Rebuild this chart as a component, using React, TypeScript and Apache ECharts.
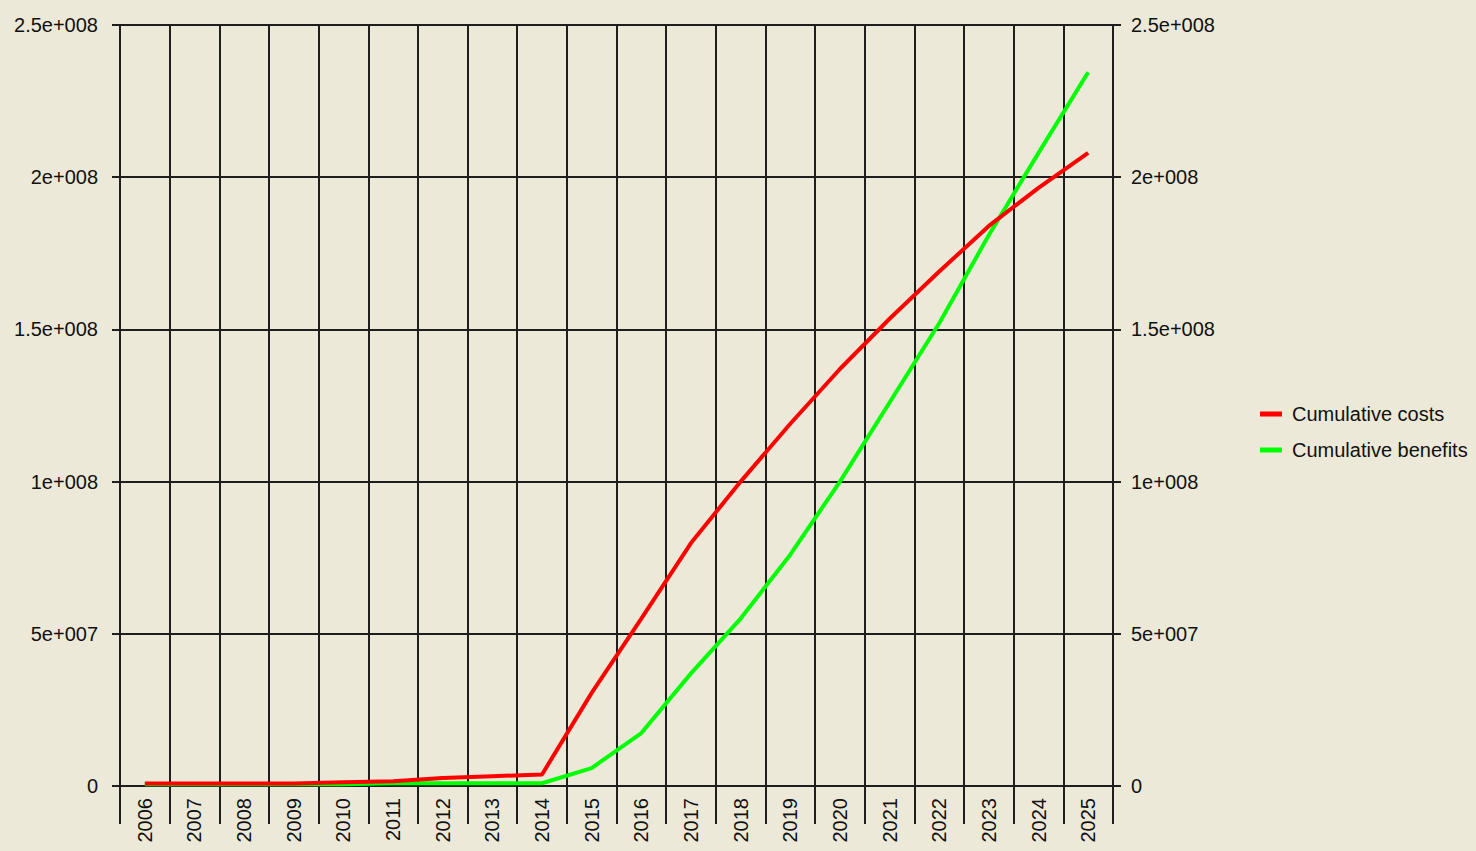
import React, { useEffect, useRef } from "react";
import * as echarts from "echarts";

const years = ["2006","2007","2008","2009","2010","2011","2012","2013","2014","2015","2016","2017","2018","2019","2020","2021","2022","2023","2024","2025"];
const cumulativeCosts = [0.8e6,0.8e6,0.8e6,0.8e6,1.2e6,1.6e6,2.6e6,3.2e6,3.8e6,30.6e6,55e6,79.8e6,100e6,119e6,137e6,153.5e6,169e6,184e6,196.5e6,208e6];
const cumulativeBenefits = [0.6e6,0.6e6,0.6e6,0.6e6,0.6e6,0.9e6,0.9e6,0.9e6,0.9e6,5.9e6,17.4e6,37e6,55e6,76e6,100e6,126e6,152e6,181e6,208e6,234.5e6];
const yTickValues = [0, 5e7, 1e8, 1.5e8, 2e8, 2.5e8];
const yTickLabels = ["0","5e+007","1e+008","1.5e+008","2e+008","2.5e+008"];
const seriesNames = ["Cumulative costs", "Cumulative benefits"];

const FONT = "Liberation Sans";
const GRID_COLOR = "#1e1e1e";

function fmtY(v: number) {
  const i = yTickValues.findIndex((t) => Math.abs(t - v) < 1);
  return i >= 0 ? yTickLabels[i] : "";
}

export default function App() {
  const ref = useRef<HTMLDivElement>(null);
  useEffect(() => {
    document.body.style.margin = "0";
    const chart = echarts.init(ref.current!, null, { renderer: "svg" });
    const yAxisBase = {
      type: "value" as const,
      min: 0,
      max: 2.5e8,
      interval: 5e7,
      axisLine: { show: true, lineStyle: { color: GRID_COLOR, width: 2 } },
      axisTick: { show: true, length: 8, lineStyle: { color: GRID_COLOR, width: 2 } },
      axisLabel: { formatter: fmtY, color: "#111", fontFamily: FONT, fontSize: 20 },
    };
    chart.setOption({
      animation: false,
      backgroundColor: "#ECE9D8",
      grid: { left: 120, right: 363, top: 25, bottom: 65, containLabel: false },
      legend: {
        orient: "vertical",
        left: 1255,
        top: 399,
        icon: "rect",
        itemWidth: 22,
        itemHeight: 5,
        itemGap: 16,
        data: seriesNames,
        textStyle: { fontFamily: FONT, fontSize: 20, color: "#111", lineHeight: 20, padding: [0, 0, 0, 5] },
      },
      xAxis: {
        type: "category",
        data: years,
        boundaryGap: true,
        axisLine: { show: true, lineStyle: { color: GRID_COLOR, width: 2 } },
        axisTick: { show: true, length: 38, interval: 0, lineStyle: { color: GRID_COLOR, width: 2 } },
        axisLabel: { rotate: 90, interval: 0, margin: 12, color: "#111", fontFamily: FONT, fontSize: 20 },
        splitLine: { show: true, interval: 0, lineStyle: { color: GRID_COLOR, width: 2 } },
      },
      yAxis: [
        {
          ...yAxisBase,
          position: "left",
          axisLabel: { ...yAxisBase.axisLabel, margin: 22 },
          splitLine: { show: true, lineStyle: { color: GRID_COLOR, width: 2 } },
        },
        {
          ...yAxisBase,
          position: "right",
          axisLabel: { ...yAxisBase.axisLabel, margin: 18 },
          splitLine: { show: false },
        },
      ],
      series: [
        {
          name: seriesNames[0],
          type: "line",
          data: cumulativeCosts,
          showSymbol: false,
          symbol: "none",
          z: 4,
          itemStyle: { color: "#FF0000" },
          lineStyle: { color: "#FF0000", width: 4 },
        },
        {
          name: seriesNames[1],
          type: "line",
          data: cumulativeBenefits,
          showSymbol: false,
          symbol: "none",
          z: 3,
          itemStyle: { color: "#00FF00" },
          lineStyle: { color: "#00FF00", width: 4 },
        },
      ],
    });
    return () => chart.dispose();
  }, []);
  return <div ref={ref} style={{ width: 1476, height: 851 }} />;
}
